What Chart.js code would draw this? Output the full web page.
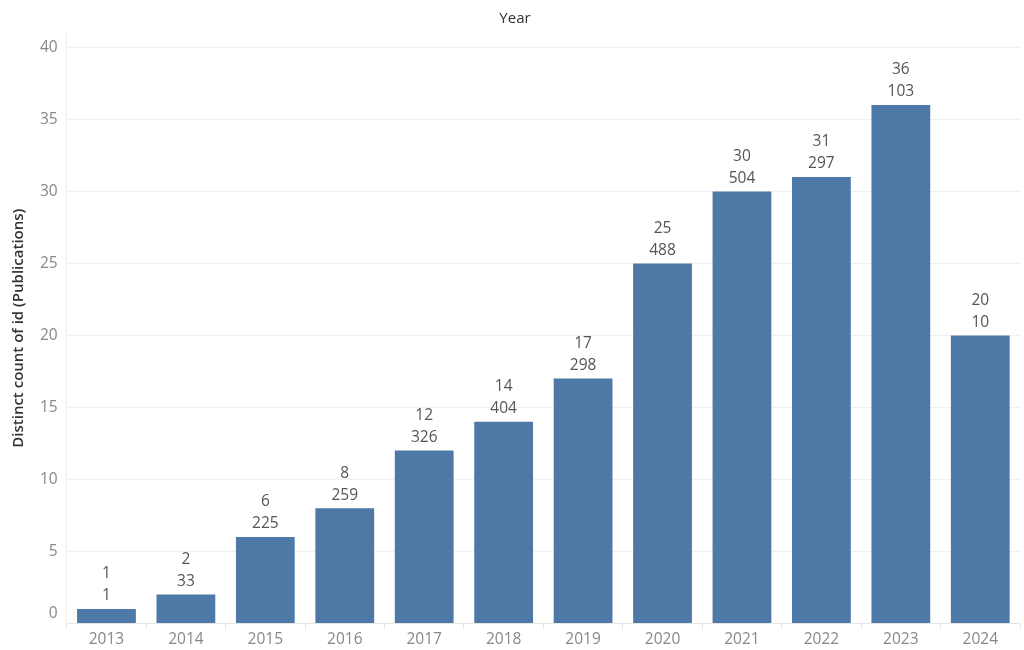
<!DOCTYPE html>
<html>
<head>
<meta charset="utf-8">
<script src="https://cdn.jsdelivr.net/npm/chart.js@4/dist/chart.umd.min.js"></script>
<style>
  html, body { margin: 0; padding: 0; background: #fff; }
  #wrap { width: 1024px; height: 650px; position: relative; }
</style>
</head>
<body>
<div id="wrap"><canvas id="pubChart"></canvas></div>
<script>
const years = ["2013", "2014", "2015", "2016", "2017", "2018", "2019", "2020", "2021", "2022", "2023", "2024"];
const publications = [1, 2, 6, 8, 12, 14, 17, 25, 30, 31, 36, 20];
const secondLabel = [1, 33, 225, 259, 326, 404, 298, 488, 504, 297, 103, 10];
const yTicks = [0, 5, 10, 15, 20, 25, 30, 35, 40];

const fontFamily = "'Open Sans', 'Noto Sans', sans-serif";

// two-line labels above each bar
const barLabels = {
  id: "barLabels",
  afterDatasetsDraw(chart) {
    const ctx = chart.ctx;
    const meta = chart.getDatasetMeta(0);
    ctx.save();
    ctx.font = "15.5px " + fontFamily;
    ctx.fillStyle = "#555";
    ctx.textAlign = "center";
    ctx.textBaseline = "middle";
    meta.data.forEach((bar, i) => {
      ctx.fillText(String(secondLabel[i]), bar.x, bar.y - 13);
      ctx.fillText(String(publications[i]), bar.x, bar.y - 35);
    });
    ctx.restore();
  }
};

// Tableau nudges the bottom "0" label up off the axis
const zeroLabel = {
  id: "zeroLabel",
  afterDraw(chart) {
    const y = chart.scales.y;
    const ctx = chart.ctx;
    ctx.save();
    ctx.font = "15.5px " + fontFamily;
    ctx.fillStyle = "#888";
    ctx.textAlign = "right";
    ctx.textBaseline = "middle";
    ctx.fillText("0", y.right - 9, y.getPixelForValue(0) - 10);
    ctx.restore();
  }
};

new Chart(document.getElementById("pubChart"), {
  type: "bar",
  data: {
    labels: years,
    datasets: [{
      label: "Distinct count of id (Publications)",
      data: publications,
      backgroundColor: "#4e79a7",
      borderWidth: 0,
      categoryPercentage: 1,
      barPercentage: 0.74
    }]
  },
  options: {
    responsive: true,
    maintainAspectRatio: false,
    animation: false,
    layout: { padding: { top: 8, right: 4, left: 10, bottom: 0 } },
    plugins: {
      legend: { display: false },
      tooltip: { enabled: false },
      title: {
        display: true,
        text: "Year",
        color: "#333",
        font: { family: fontFamily, size: 15, weight: "normal" },
        padding: { top: 2, bottom: 5 }
      }
    },
    scales: {
      x: {
        grid: {
          display: true,
          offset: true,
          drawOnChartArea: false,
          tickLength: 6,
          color: "#e6e6e6"
        },
        border: { color: "#e6e6e6" },
        ticks: {
          color: "#888",
          font: { family: fontFamily, size: 15.5 },
          padding: 1
        }
      },
      y: {
        min: 0,
        max: 41,
        afterBuildTicks(scale) {
          scale.ticks = yTicks.map(v => ({ value: v }));
        },
        grid: { color: "#f0f0f0", tickLength: 0 },
        border: { color: "#eeeeee" },
        ticks: {
          color: "#888",
          font: { family: fontFamily, size: 15.5 },
          padding: 9,
          callback: v => (v === 0 ? "" : v)
        },
        title: {
          display: true,
          text: "Distinct count of id (Publications)",
          color: "#333",
          font: { family: fontFamily, size: 15, weight: 600 },
          padding: { top: 0, bottom: 3 }
        }
      }
    }
  },
  plugins: [barLabels, zeroLabel]
});
</script>
</body>
</html>
